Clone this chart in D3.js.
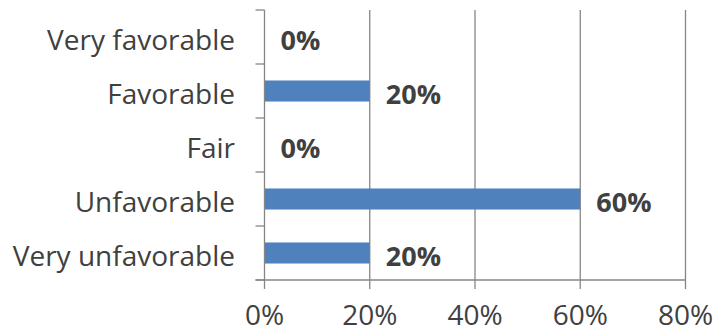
<!DOCTYPE html>
<html><head><meta charset="utf-8">
<script src="https://cdn.jsdelivr.net/npm/d3@7"></script>
<style>body{margin:0;background:#fff;}svg{display:block;}</style>
</head><body>
<script>
const categories = ["Very favorable","Favorable","Fair","Unfavorable","Very unfavorable"];
const values = [0, 20, 0, 60, 20];
const xTicks = [0, 20, 40, 60, 80];

const W = 717, H = 333;
const font = "'Open Sans', sans-serif";
const fs = 28;
const svg = d3.select("body").append("svg").attr("width", W).attr("height", H);

const x = d3.scaleLinear().domain([0, 80]).range([264.5, 685.5]);
const y = d3.scaleBand().domain(categories).range([10, 280]).paddingInner(0.61).paddingOuter(0.305);
const band = d3.scaleBand().domain(categories).range([10, 280]);

const grey = "#868686";
svg.append("g").selectAll("line").data(xTicks.slice(1)).join("line")
  .attr("x1", d => x(d)).attr("x2", d => x(d)).attr("y1", 10).attr("y2", 280)
  .attr("stroke", grey).attr("stroke-width", 1.3);

svg.append("g").selectAll("rect").data(values).join("rect")
  .attr("x", x(0)).attr("y", (d, i) => y(categories[i]))
  .attr("width", d => x(d) - x(0)).attr("height", y.bandwidth())
  .attr("fill", "#4F81BD");

const ya = svg.append("g");
ya.append("line").attr("x1", x(0)).attr("x2", x(0)).attr("y1", 10).attr("y2", 280).attr("stroke", grey).attr("stroke-width", 1.3);
const yTickPos = categories.map(c => band(c)).concat([280]);
ya.selectAll("line.t").data(yTickPos).join("line").attr("class", "t")
  .attr("x1", x(0) - 9).attr("x2", x(0)).attr("y1", d => d).attr("y2", d => d)
  .attr("stroke", grey).attr("stroke-width", 1.3);
ya.selectAll("text").data(categories).join("text")
  .attr("x", 235).attr("y", d => band(d) + band.bandwidth() / 2 + 12.5)
  .attr("text-anchor", "end")
  .attr("font-family", font).attr("font-size", fs).attr("fill", "#404040")
  .text(d => d);

const xa = svg.append("g");
xa.append("line").attr("x1", x(0) - 9).attr("x2", x(80)).attr("y1", 280).attr("y2", 280).attr("stroke", grey).attr("stroke-width", 1.3);
xa.selectAll("line.t").data(xTicks).join("line").attr("class", "t")
  .attr("x1", d => x(d)).attr("x2", d => x(d)).attr("y1", 280).attr("y2", 289)
  .attr("stroke", grey).attr("stroke-width", 1.3);
xa.selectAll("text").data(xTicks).join("text")
  .attr("x", d => x(d)).attr("y", 325).attr("text-anchor", "middle")
  .attr("font-family", font).attr("font-size", fs).attr("fill", "#404040")
  .text(d => d + "%");

svg.append("g").selectAll("text").data(values).join("text")
  .attr("x", d => x(d) + 16).attr("y", (d, i) => band(categories[i]) + band.bandwidth() / 2 + 12.5)
  .attr("font-family", font).attr("font-size", 27)
  .attr("font-weight", "bold").attr("fill", "#404040")
  .text(d => d + "%");
</script>
</body></html>
